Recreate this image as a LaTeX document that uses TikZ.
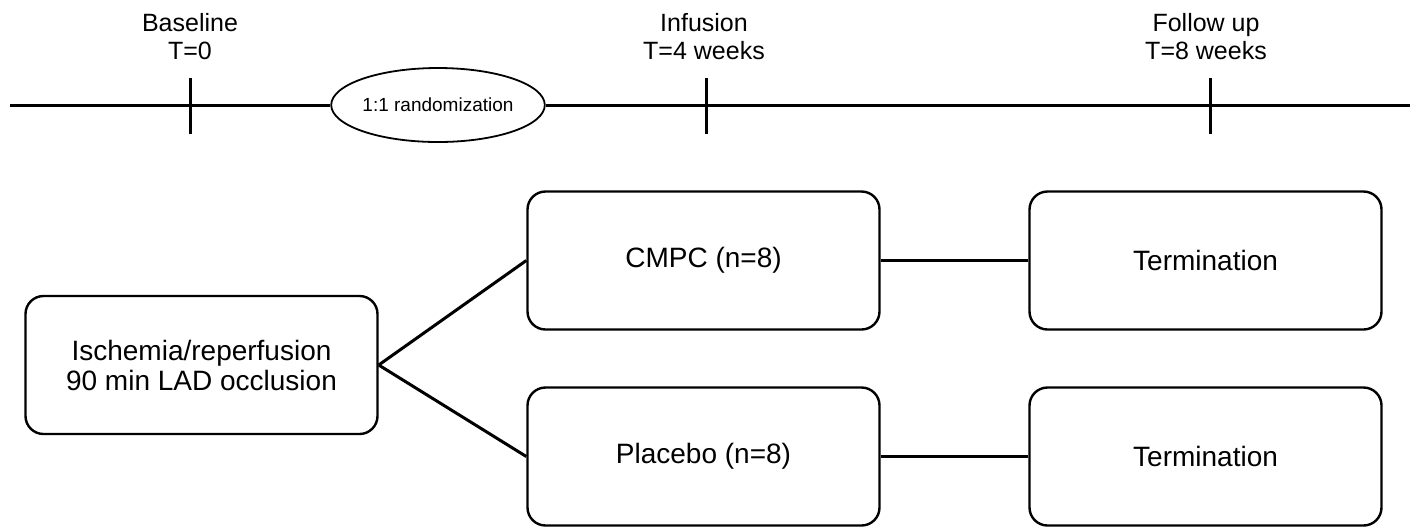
\documentclass[tikz,border=0pt]{standalone}
\usepackage{fontspec}
\setmainfont{Liberation Sans}
\usetikzlibrary{shapes.geometric}
\begin{document}
\begin{tikzpicture}[x=0.5pt,y=-0.5pt,
  box/.style={draw, line width=1.2pt, rounded corners=9pt, minimum width=176pt, minimum height=69pt, inner sep=0pt, align=center, font=\fontsize{14}{15}\selectfont},
  lbl/.style={align=center, inner sep=0pt, font=\fontsize{12.5}{14}\selectfont},
  conn/.style={line width=1.5pt},
  tick/.style={line width=1.5pt}]
\useasboundingbox (0,0) rectangle (1416,527);
% timeline
\coordinate (tl) at (10,105);
\coordinate (tr) at (1410,105);
\node[draw, ellipse, line width=0.9pt, minimum width=102pt, minimum height=37pt, inner sep=0pt, fill=white, font=\fontsize{9.5}{11}\selectfont] (rand) at (438,105) {1:1 randomization};
\draw[conn] (tl) -- (rand.west);
\draw[conn] (rand.east) -- (tr);
\coordinate (t0a) at (190,78); \coordinate (t0b) at (190,134);
\coordinate (t4a) at (706,78); \coordinate (t4b) at (706,134);
\coordinate (t8a) at (1210,78); \coordinate (t8b) at (1210,134);
\draw[tick] (t0a) -- (t0b);
\draw[tick] (t4a) -- (t4b);
\draw[tick] (t8a) -- (t8b);
\node[lbl] (lb0) at (190,37) {Baseline\\T=0};
\node[lbl] (lb4) at (704,37) {Infusion\\T=4 weeks};
\node[lbl] (lb8) at (1206,37) {Follow up\\T=8 weeks};
% boxes
\node[box] (isch) at (201.5,365) {Ischemia/reperfusion\\90 min LAD occlusion};
\node[box] (cmpc) at (703.5,260.5) {CMPC (n=8)};
\node[box] (plac) at (703.5,456.5) {Placebo (n=8)};
\node[box] (term1) at (1205.5,260.5) {Termination};
\node[box] (term2) at (1205.5,456.5) {Termination};
\draw[conn] (isch.east) -- (cmpc.west);
\draw[conn] (isch.east) -- (plac.west);
\draw[conn] (cmpc.east) -- (term1.west);
\draw[conn] (plac.east) -- (term2.west);
\end{tikzpicture}
\end{document}
